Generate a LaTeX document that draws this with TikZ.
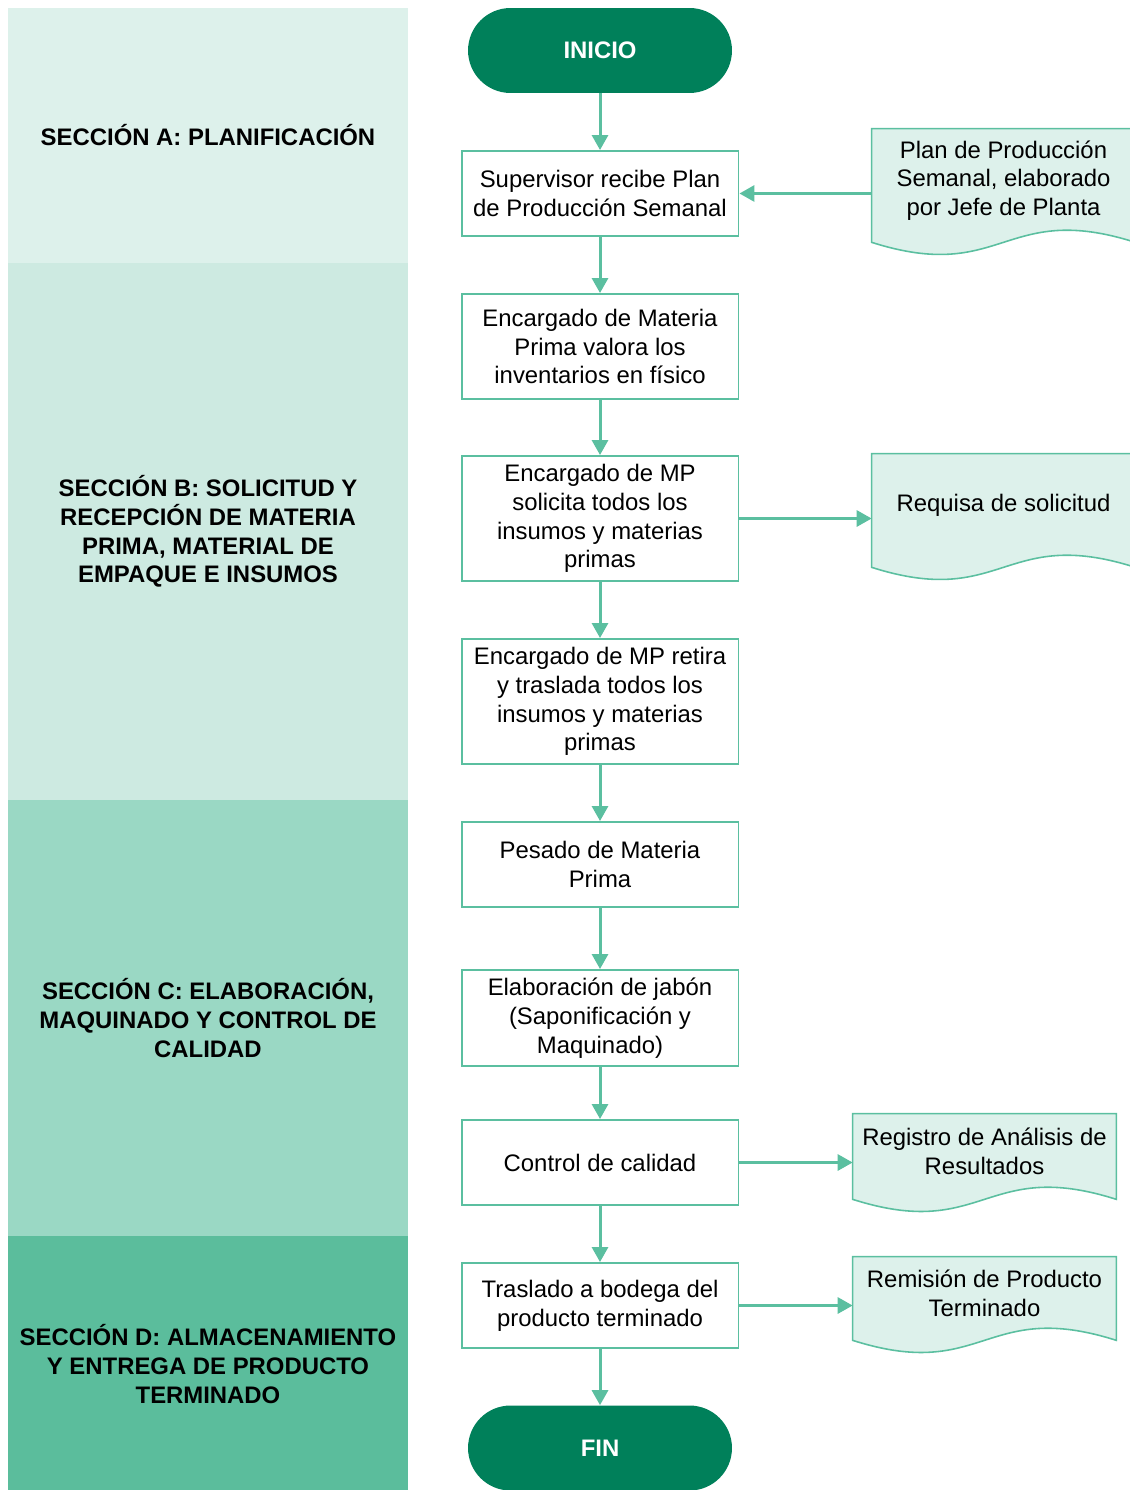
\documentclass[tikz,border=0pt]{standalone}
\usepackage{fontspec}
\setmainfont{Liberation Sans}
\usetikzlibrary{arrows.meta,calc,backgrounds}
\definecolor{verdeosc}{RGB}{0,128,90}
\definecolor{verdelin}{RGB}{91,191,160}
\definecolor{docfill}{RGB}{221,241,235}
\definecolor{secA}{RGB}{221,241,235}
\definecolor{secB}{RGB}{205,234,225}
\definecolor{secC}{RGB}{154,216,196}
\definecolor{secD}{RGB}{91,189,156}
\newcommand{\letra}{\fontsize{13.6}{16.4}\selectfont}
\tikzset{
  proceso/.style={draw=verdelin, line width=1.1pt, fill=white, minimum width=5.54cm, align=center, inner sep=0pt, font=\letra},
  terminal/.style={fill=verdeosc, rounded corners=0.85cm, minimum width=5.28cm, minimum height=1.7cm, text=white, font=\letra\bfseries},
  documento/.style={minimum width=5.26cm, align=center, inner sep=0pt, font=\letra},
  seccion/.style={align=center, font=\letra\bfseries},
  flecha/.style={draw=verdelin, line width=1.7pt, -{Triangle[length=0.3cm,width=0.32cm]}}
}
\newcommand{\docforma}[1]{%
  \begin{pgfonlayer}{background}
    \draw[draw=verdelin, fill=docfill, line width=0.9pt]
      ($(#1.south west)+(0,-0.2cm)$) -- (#1.north west) -- (#1.north east) -- ($(#1.south east)+(0,-0.2cm)$)
      .. controls ($(#1.south)+(0,0.64cm)$) and ($(#1.south)+(0,-1.04cm)$) .. ($(#1.south west)+(0,-0.2cm)$) -- cycle;
  \end{pgfonlayer}}
\begin{document}
\begin{tikzpicture}[x=0.02cm, y=-0.02cm]
  \useasboundingbox (0,0) rectangle (1129,1490);
  \fill[secA] (8,8) rectangle (408,263);
  \fill[secB] (8,263) rectangle (408,800);
  \fill[secC] (8,800) rectangle (408,1236);
  \fill[secD] (8,1236) rectangle (408,1490);
  \node[seccion] (sa) at (208,135.5) {SECCIÓN A: PLANIFICACIÓN};
  \node[seccion] (sb) at (208,531.5) {SECCIÓN B: SOLICITUD Y\\RECEPCIÓN DE MATERIA\\PRIMA, MATERIAL DE\\EMPAQUE E INSUMOS};
  \node[seccion] (sc) at (208,1018) {SECCIÓN C: ELABORACIÓN,\\MAQUINADO Y CONTROL DE\\CALIDAD};
  \node[seccion] (sd) at (208,1364) {SECCIÓN D: ALMACENAMIENTO\\Y ENTREGA DE PRODUCTO\\TERMINADO};

  \node[terminal] (inicio) at (600,50.5) {INICIO};
  \node[proceso, minimum height=1.7cm] (p1) at (600,193.5) {Supervisor recibe Plan\\de Producción Semanal};
  \node[proceso, minimum height=2.1cm] (p2) at (600,346.5) {Encargado de Materia\\Prima valora los\\inventarios en físico};
  \node[proceso, minimum height=2.5cm] (p3) at (600,518.5) {Encargado de MP\\solicita todos los\\insumos y materias\\primas};
  \node[proceso, minimum height=2.5cm] (p4) at (600,701.5) {Encargado de MP retira\\y traslada todos los\\insumos y materias\\primas};
  \node[proceso, minimum height=1.7cm] (p5) at (600,864.5) {Pesado de Materia\\Prima};
  \node[proceso, minimum height=1.92cm] (p6) at (600,1018) {Elaboración de jabón\\(Saponificación y\\Maquinado)};
  \node[proceso, minimum height=1.7cm] (p7) at (600,1162.5) {Control de calidad};
  \node[proceso, minimum height=1.7cm] (p8) at (600,1305.5) {Traslado a bodega del\\producto terminado};
  \node[terminal] (fin) at (600,1448) {FIN};

  \node[documento, minimum height=2.06cm] (d1) at (1003.5,180.5) {Plan de Producción\\Semanal, elaborado\\por Jefe de Planta};
  \node[documento, minimum height=2.06cm] (d2) at (1003.5,505.5) {Requisa de solicitud};
  \node[documento, minimum height=1.5cm] (d3) at (984.5,1151.5) {Registro de Análisis de\\Resultados};
  \node[documento, minimum height=1.46cm] (d4) at (984.5,1293.5) {Remisión de Producto\\Terminado};
  \docforma{d1}
  \docforma{d2}
  \docforma{d3}
  \docforma{d4}

  \draw[flecha] (inicio) -- (p1);
  \draw[flecha] (p1) -- (p2);
  \draw[flecha] (p2) -- (p3);
  \draw[flecha] (p3) -- (p4);
  \draw[flecha] (p4) -- (p5);
  \draw[flecha] (p5) -- (p6);
  \draw[flecha] (p6) -- (p7);
  \draw[flecha] (p7) -- (p8);
  \draw[flecha] (p8) -- (fin);
  \draw[flecha] (d1.west |- p1.east) -- (p1.east);
  \draw[flecha] (p3.east) -- (d2.west |- p3.east);
  \draw[flecha] (p7.east) -- (d3.west |- p7.east);
  \draw[flecha] (p8.east) -- (d4.west |- p8.east);
\end{tikzpicture}
\end{document}
